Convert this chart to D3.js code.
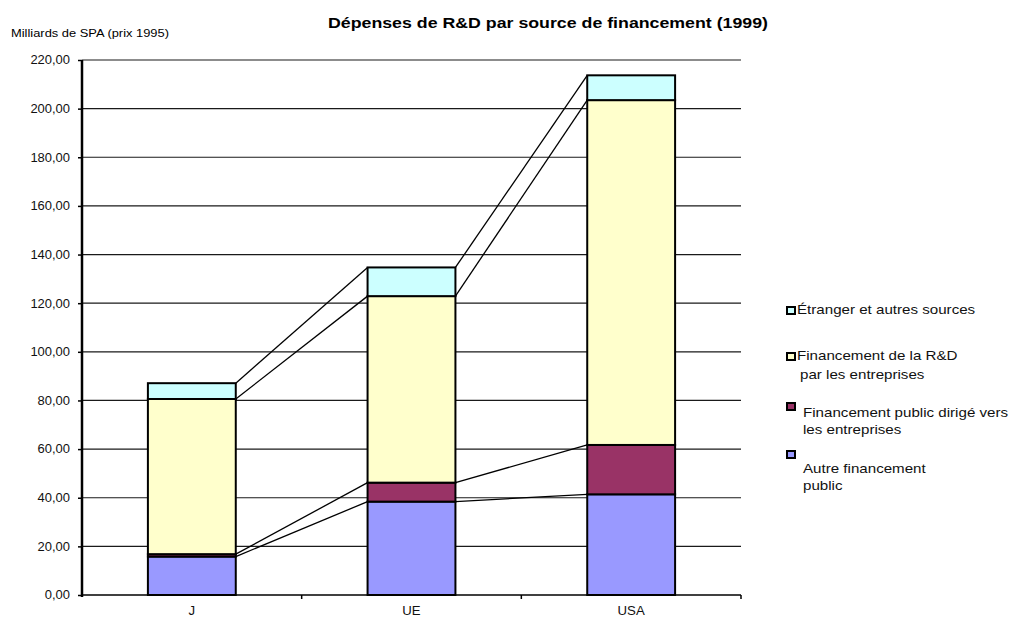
<!DOCTYPE html>
<html>
<head>
<meta charset="utf-8">
<script src="https://cdn.jsdelivr.net/npm/d3@7/dist/d3.min.js"></script>
<style>
  html, body { margin: 0; padding: 0; background: #fff; }
  svg { display: block; font-family: "Liberation Sans", Arial, sans-serif; }
</style>
</head>
<body>
<svg id="chart" width="1013" height="617"></svg>
<script>
// R&D expenditure by source of funding, 1999 (billions of PPS, 1995 prices)
const categories = ["J", "UE", "USA"];
const seriesKeys = ["autre", "publicEntreprises", "entreprises", "etranger"];
const seriesLabels = [
  ["Autre financement", "public"],
  ["Financement public dirigé vers", "les entreprises"],
  ["Financement de la R&D", "par les entreprises"],
  ["Étranger et autres sources"]
];
const seriesColors = ["#9999FF", "#993366", "#FFFFCC", "#CCFFFF"];

const autreFinancementPublic = [15.8, 38.4, 41.4];
const publicVersEntreprises = [1.0, 7.8, 20.3];
const financementEntreprises = [63.8, 76.7, 141.8];
const etrangerAutres = [6.5, 11.8, 10.2];

const yTickValues = [0, 20, 40, 60, 80, 100, 120, 140, 160, 180, 200, 220];

const rows = categories.map((c, i) => ({
  cat: c,
  autre: autreFinancementPublic[i],
  publicEntreprises: publicVersEntreprises[i],
  entreprises: financementEntreprises[i],
  etranger: etrangerAutres[i]
}));

const svg = d3.select("#chart");
const plot = { left: 82, right: 741, top: 60, bottom: 595 };

const x = d3.scaleBand().domain(categories)
  .range([plot.left, plot.right]).paddingInner(0.6).paddingOuter(0.3);
const y = d3.scaleLinear().domain([0, 220]).range([plot.bottom, plot.top]);

const fr = d3.formatLocale({ decimal: ",", thousands: " ", grouping: [3], currency: ["", " €"] });
const fmt = fr.format(".2f");

// Widen text slightly (the chart's lettering is set wide)
function stretch(sel, k) {
  sel.each(function () {
    const w = this.getComputedTextLength();
    d3.select(this).attr("textLength", w * k).attr("lengthAdjust", "spacingAndGlyphs");
  });
}

// Title and unit label
svg.append("text").attr("x", 548).attr("y", 28).attr("text-anchor", "middle")
  .attr("font-size", 15).attr("font-weight", "bold")
  .attr("textLength", 440).attr("lengthAdjust", "spacingAndGlyphs")
  .text("Dépenses de R&D par source de financement (1999)");
svg.append("text").attr("x", 11).attr("y", 37).attr("font-size", 11.5)
  .text("Milliards de SPA (prix 1995)").call(stretch, 1.12);

// Horizontal gridlines
svg.append("g").selectAll("line").data(yTickValues.filter(d => d > 0)).join("line")
  .attr("x1", plot.left).attr("x2", plot.right)
  .attr("y1", d => y(d)).attr("y2", d => y(d))
  .attr("stroke", "#1a1a1a").attr("stroke-width", 1.2);

// Y axis
const yAxis = d3.axisLeft(y).tickValues(yTickValues).tickFormat(fmt).tickSize(4).tickPadding(8);
const gy = svg.append("g").attr("transform", `translate(${plot.left},0)`).call(yAxis);
gy.select(".domain").remove();
gy.selectAll(".tick line").attr("stroke", "#000").attr("stroke-width", 1.5);
gy.selectAll(".tick text").attr("font-size", 12).attr("fill", "#111")
  .attr("font-family", "Liberation Sans, Arial, sans-serif").call(stretch, 1.08);
svg.append("line").attr("x1", plot.left).attr("x2", plot.left)
  .attr("y1", plot.top).attr("y2", plot.bottom + 2)
  .attr("stroke", "#000").attr("stroke-width", 2.5);

// X axis baseline, ticks between categories, labels
svg.append("line").attr("x1", plot.left).attr("x2", plot.right)
  .attr("y1", plot.bottom).attr("y2", plot.bottom)
  .attr("stroke", "#000").attr("stroke-width", 1.5);
const step = x.step();
const boundaries = categories.map(c => x(c) + x.bandwidth() / 2 + step / 2);
svg.append("g").selectAll("line").data(boundaries).join("line")
  .attr("x1", d => d).attr("x2", d => d)
  .attr("y1", plot.bottom).attr("y2", plot.bottom + 4)
  .attr("stroke", "#000").attr("stroke-width", 1.5);
svg.append("g").selectAll("text").data(categories).join("text")
  .attr("x", d => x(d) + x.bandwidth() / 2).attr("y", 615)
  .attr("text-anchor", "middle").attr("font-size", 12).attr("fill", "#111")
  .text(d => d).call(stretch, 1.1);

// Stacked layers
const stack = d3.stack().keys(seriesKeys);
const layers = stack(rows);

// Series lines joining the top of each layer between adjacent bars
const seriesLines = svg.append("g");
layers.forEach(layer => {
  for (let i = 0; i < layer.length - 1; i++) {
    const a = layer[i], b = layer[i + 1];
    seriesLines.append("line")
      .attr("x1", x(a.data.cat) + x.bandwidth()).attr("y1", y(a[1]))
      .attr("x2", x(b.data.cat)).attr("y2", y(b[1]))
      .attr("stroke", "#000").attr("stroke-width", 1.3);
  }
});

// Bars
const bars = svg.append("g");
layers.forEach((layer, si) => {
  bars.append("g").selectAll("rect").data(layer).join("rect")
    .attr("x", d => x(d.data.cat))
    .attr("y", d => y(d[1]))
    .attr("width", x.bandwidth())
    .attr("height", d => y(d[0]) - y(d[1]))
    .attr("fill", seriesColors[si])
    .attr("stroke", "#000").attr("stroke-width", 2);
});

// Legend (top entry is the top layer)
const legendItems = [
  { i: 3, sq: 307, tx: 797, lines: [314], indent: [0] },
  { i: 2, sq: 353, tx: 797, lines: [360, 379], indent: [0, 3] },
  { i: 1, sq: 403, tx: 803, lines: [417, 434], indent: [0, 0] },
  { i: 0, sq: 451, tx: 803, lines: [473, 490], indent: [0, 0] }
];
const legend = svg.append("g");
legendItems.forEach(it => {
  legend.append("rect").attr("x", 787).attr("y", it.sq).attr("width", 8).attr("height", 7)
    .attr("fill", seriesColors[it.i]).attr("stroke", "#000").attr("stroke-width", 2);
  seriesLabels[it.i].forEach((t, k) => {
    legend.append("text").attr("x", it.tx + it.indent[k]).attr("y", it.lines[k])
      .attr("font-size", 13.5).attr("fill", "#111").text(t).call(stretch, 1.12);
  });
});
</script>
</body>
</html>
